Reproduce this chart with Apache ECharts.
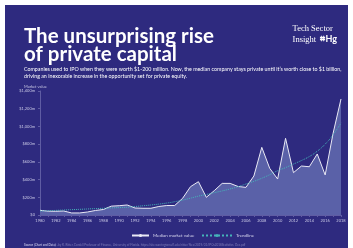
<!DOCTYPE html>
<html>
<head>
<meta charset="utf-8">
<script src="https://cdn.jsdelivr.net/npm/echarts@6/dist/echarts.min.js"></script>
<style>
html, body { margin: 0; padding: 0; background: #fff; }
#main { width: 353px; height: 248px; }
</style>
</head>
<body>
<div id="main"></div>
<script>
"use strict";

var years = ['1980', '1981', '1982', '1983', '1984', '1985', '1986', '1987', '1988', '1989',
    '1990', '1991', '1992', '1993', '1994', '1995', '1996', '1997', '1998', '1999',
    '2000', '2001', '2002', '2003', '2004', '2005', '2006', '2007', '2008', '2009',
    '2010', '2011', '2012', '2013', '2014', '2015', '2016', '2017', '2018'];

// median market value at IPO, $m
var medianValue = [53, 43, 42, 45, 23, 23, 34, 51, 62, 100,
    105, 113, 79, 76, 76, 96, 107, 107, 188, 320,
    376, 200, 275, 357, 357, 322, 312, 440, 764, 527,
    406, 866, 478, 553, 545, 689, 452, 922, 1310];

var trendline = [45, 48, 52, 56, 60, 64, 68, 72, 76, 80,
    84, 88, 96, 104, 113, 123, 135, 150, 168, 190,
    213, 232, 252, 272, 294, 320, 350, 380, 415, 455,
    500, 535, 575, 615, 660, 720, 800, 905, 1040];

var yTicks = { min: 0, max: 1400, step: 200 };

var navy = '#2e2a7f';
var labelColor = '#c6c5e3';
var sans = 'Lato, "Open Sans", sans-serif';

var myChart = echarts.init(document.getElementById('main'));

var option = {
    backgroundColor: '#ffffff',
    animation: false,
    graphic: [{
        type: 'rect',
        z: -10,
        shape: { x: 5, y: 5, width: 343, height: 243 },
        style: { fill: navy }
    }],
    title: [
        {
            text: 'The unsurprising rise\nof private capital',
            left: 19, top: 22,
            textStyle: { color: '#fff', fontFamily: sans, fontWeight: 'bold', fontSize: 20.5, lineHeight: 18 }
        },
        {
            text: 'Tech Sector\nInsight  {hg|⌗Hg}',
            right: 11, top: 18,
            textStyle: {
                color: '#fff', fontFamily: '"Liberation Serif", serif', fontWeight: 'normal', fontSize: 8.5, lineHeight: 11,
                rich: {
                    hg: { color: '#fff', fontFamily: sans, fontWeight: 'bold', fontSize: 9 }
                }
            }
        },
        {
            text: 'Companies used to IPO when they were worth $1-200 million. Now, the median company stays private until it\u2019s worth close to $1 billion,\ndriving an inexorable increase in the opportunity set for private equity.',
            left: 19, top: 61,
            textStyle: { color: '#fff', fontFamily: sans, fontWeight: 'normal', fontSize: 5.3, lineHeight: 7 }
        },
        {
            text: 'Market value',
            left: 19, top: 80,
            textStyle: { color: labelColor, fontFamily: sans, fontSize: 4, fontWeight: 'normal' }
        },
        {
            text: '{b|Source (Chart and Data):} Jay R. Ritter, Cordell Professor of Finance, University of Florida. https://site.warrington.ufl.edu/ritter/files/2019/01/IPOs2018Statistics_Dec.pdf',
            left: 19, top: 239,
            textStyle: {
                color: '#7f7db8', fontFamily: sans, fontSize: 3, fontWeight: 'normal',
                rich: { b: { color: '#bcbbe0', fontFamily: sans, fontSize: 3, fontWeight: 'bold' } }
            }
        }
    ],
    legend: [
        {
            data: ['Median market value'],
            left: 126, top: 228,
            itemWidth: 17, itemHeight: 4, itemGap: 4,
            textStyle: { color: '#d6d5ee', fontFamily: sans, fontSize: 4.5, padding: [0, 0, 0, -1] }
        },
        {
            data: ['Trendline'],
            left: 196, top: 228,
            itemWidth: 30, itemHeight: 4,
            textStyle: { color: '#d6d5ee', fontFamily: sans, fontSize: 4.5, padding: [0, 0, 0, -1] }
        }
    ],
    grid: { left: 40, right: 12, top: 91, bottom: 33 },
    xAxis: {
        type: 'category',
        data: years,
        boundaryGap: false,
        axisLine: { lineStyle: { color: '#5f5ca3', width: 1 } },
        axisTick: { show: true, interval: 0, length: 2, lineStyle: { color: '#5f5ca3' } },
        axisLabel: { interval: 1, color: labelColor, fontFamily: sans, fontSize: 4, margin: 4 }
    },
    yAxis: {
        type: 'value',
        min: yTicks.min, max: yTicks.max, interval: yTicks.step,
        splitLine: { show: false },
        axisLine: { show: true, lineStyle: { color: '#5f5ca3', width: 1 } },
        axisTick: { show: true, length: 2, lineStyle: { color: '#5f5ca3' } },
        axisLabel: {
            color: labelColor, fontFamily: sans, fontSize: 4, margin: 5,
            formatter: function (v) {
                if (v === 0) return '$0';
                return '$' + v.toLocaleString('en-US') + 'm';
            }
        }
    },
    series: [
        {
            name: 'Median market value',
            type: 'line',
            data: medianValue,
            showSymbol: false,
            symbol: 'none',
            color: '#e9e9f5',
            lineStyle: { color: '#e9e9f5', width: 1 },
            areaStyle: { color: '#5a61a8', opacity: 1 },
            z: 2
        },
        {
            name: 'Trendline',
            type: 'line',
            data: trendline,
            showSymbol: false,
            symbol: 'none',
            smooth: true,
            color: '#45b3b9',
            lineStyle: { color: '#45b3b9', width: 1, type: 'dotted' },
            z: 3
        }
    ]
};
myChart.setOption(option);
</script>
</body>
</html>
